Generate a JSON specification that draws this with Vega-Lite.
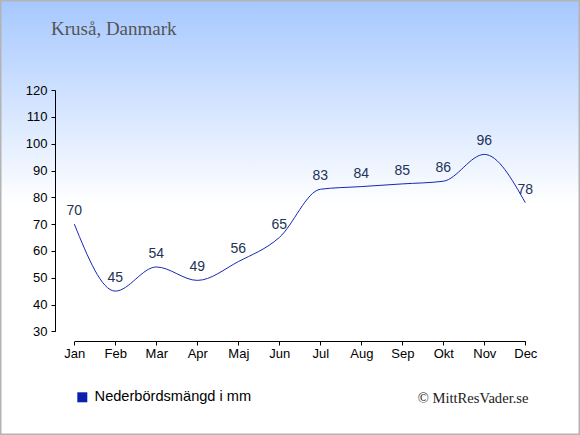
{
  "$schema": "https://vega.github.io/schema/vega-lite/v6.json",
  "description": "Nederbördsmängd per månad, Kruså, Danmark",
  "width": 580,
  "height": 435,
  "autosize": {"type": "none"},
  "padding": 0,
  "background": "#ffffff",
  "title": {
    "text": "Kruså, Danmark",
    "anchor": "start",
    "frame": "group",
    "offset": -37,
    "dx": 51,
    "dy": 17,
    "baseline": "alphabetic",
    "font": "Liberation Serif",
    "fontSize": 19,
    "fontWeight": "normal",
    "color": "#555555"
  },
  "data": {
    "values": [
      {"month": "Jan", "mm": 70},
      {"month": "Feb", "mm": 45},
      {"month": "Mar", "mm": 54},
      {"month": "Apr", "mm": 49},
      {"month": "Maj", "mm": 56},
      {"month": "Jun", "mm": 65},
      {"month": "Jul", "mm": 83},
      {"month": "Aug", "mm": 84},
      {"month": "Sep", "mm": 85},
      {"month": "Okt", "mm": 86},
      {"month": "Nov", "mm": 96},
      {"month": "Dec", "mm": 78}
    ]
  },
  "encoding": {
    "x": {
      "field": "month",
      "type": "ordinal",
      "sort": null,
      "scale": {
        "type": "point",
        "domain": ["Jan", "Feb", "Mar", "Apr", "Maj", "Jun", "Jul", "Aug", "Sep", "Okt", "Nov", "Dec"],
        "range": [74.3, 525.3],
        "padding": 0
      },
      "axis": {
        "orient": "bottom",
        "offset": -94,
        "labelAngle": 0,
        "domainColor": "#000000",
        "tickColor": "#000000",
        "tickSize": 4,
        "labelPadding": 2,
        "labelFont": "Liberation Sans",
        "labelFontSize": 13,
        "labelColor": "#000000",
        "grid": false,
        "title": "© MittResVader.se",
        "titleFont": "Liberation Serif",
        "titleFontSize": 14.6,
        "titleFontWeight": "normal",
        "titleColor": "#222222",
        "titleAnchor": null,
        "titleX": 528,
        "titleY": 61,
        "titleAlign": "right",
        "titleBaseline": "alphabetic",
        "titleAngle": 0
      }
    },
    "y": {
      "field": "mm",
      "type": "quantitative",
      "scale": {"domain": [30, 120], "range": [331.3, 90.1], "zero": false, "nice": false},
      "axis": {
        "orient": "left",
        "offset": -55,
        "values": [30, 40, 50, 60, 70, 80, 90, 100, 110, 120],
        "domainColor": "#000000",
        "tickColor": "#000000",
        "tickSize": 4,
        "labelPadding": 4,
        "labelFont": "Liberation Sans",
        "labelFontSize": 13,
        "labelColor": "#000000",
        "grid": false,
        "title": null
      }
    }
  },
  "layer": [
    {
      "mark": {"type": "line", "interpolate": "monotone", "strokeWidth": 1},
      "encoding": {
        "color": {
          "datum": "Nederbördsmängd i mm",
          "scale": {"range": ["#1428b4"]},
          "legend": {
            "orient": "none",
            "legendX": 75,
            "legendY": 390,
            "title": null,
            "symbolType": "square",
            "symbolSize": 100,
            "symbolFillColor": "#0b20ac",
            "symbolStrokeColor": "#0b20ac",
            "symbolStrokeWidth": 0,
            "labelFont": "Liberation Sans",
            "labelFontSize": 14.6,
            "labelColor": "#000000",
            "labelOffset": 5
          }
        }
      }
    },
    {
      "mark": {
        "type": "text",
        "dy": -9,
        "baseline": "alphabetic",
        "font": "Liberation Sans",
        "fontSize": 14,
        "color": "#223355"
      },
      "encoding": {"text": {"field": "mm", "type": "quantitative"}}
    }
  ],
  "config": {
    "view": {
      "fill": {
        "gradient": "linear",
        "x1": 0, "y1": 0, "x2": 0, "y2": 1,
        "stops": [
          {"offset": 0, "color": "#a6c8ff"},
          {"offset": 0.47, "color": "#ffffff"},
          {"offset": 1, "color": "#ffffff"}
        ]
      },
      "stroke": "#b4b4b4",
      "strokeWidth": 3
    }
  }
}
